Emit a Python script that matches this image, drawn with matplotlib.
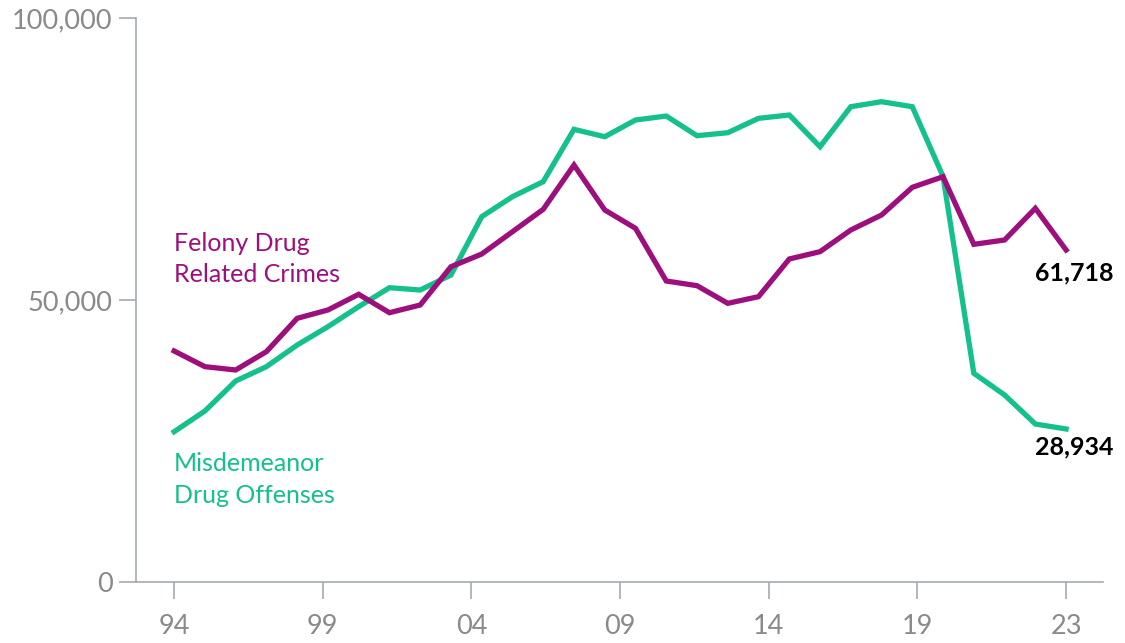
import numpy as np
import matplotlib.pyplot as plt

plt.rcParams['font.family'] = ['Lato', 'DejaVu Sans']

years = list(range(1994, 2024))
felony = [40960, 38180, 37590, 40840, 46750, 48230, 51010, 47750, 49110, 55900,
          58150, 62110, 66080, 73930, 65960, 62710, 53370, 52540, 49410, 50590,
          57270, 58570, 62410, 65070, 69980, 71860, 59870, 60640, 66260, 58870]
misdemeanor = [26650, 30320, 35640, 38180, 42020, 45270, 48820, 52180, 51770, 54430,
               64770, 68320, 70980, 80260, 78950, 81910, 82620, 79130, 79660, 82210,
               82800, 77180, 84270, 85160, 84270, 71900, 37000, 33160, 28010, 27130]
tick_labels = ['94', '99', '04', '09', '14', '19', '23']
end_labels = ['61,718', '28,934']

purple = '#9c0f7c'
green = '#14c08c'
grey = '#a3aab2'

fig = plt.figure(figsize=(11.25, 6.43), dpi=100)
ax = fig.add_axes([136/1125, 61/643, (1103-136)/1125, (582-18)/643])

ax.plot(years, misdemeanor, color=green, lw=3.8, solid_joinstyle='miter', zorder=3)
ax.plot(years, felony, color=purple, lw=3.8, solid_joinstyle='miter', zorder=4)

ax.set_xlim(1992.76, 2024.2)
ax.set_ylim(0, 100000)

ax.set_xticks(np.linspace(1994, 2023, 7))
ax.set_xticklabels(tick_labels)
ax.set_yticks([0, 50000, 100000])
ax.set_yticklabels(['0', '50,000', '100,000'])

for s in ['top', 'right']:
    ax.spines[s].set_visible(False)
for s in ['left', 'bottom']:
    ax.spines[s].set_color(grey)
    ax.spines[s].set_linewidth(1.2)

ax.tick_params(axis='y', length=12, width=1.2, color=grey, labelcolor='#8a8a8a',
               labelsize=19.5, pad=5)
ax.tick_params(axis='x', length=12, width=1.2, color=grey, labelcolor='#8a8a8a',
               labelsize=19.5, pad=11)

ax.text(1994, 62100, 'Felony Drug\nRelated Crimes', color=purple, fontsize=18,
        va='top', ha='left', linespacing=1.45)
ax.text(1994, 23000, 'Misdemeanor\nDrug Offenses', color=green, fontsize=18,
        va='top', ha='left', linespacing=1.45)

ax.text(2022.0, 54800, end_labels[0], color='black', fontsize=18, fontweight='bold',
        va='center', ha='left')
ax.text(2022.0, 23900, end_labels[1], color='black', fontsize=18, fontweight='bold',
        va='center', ha='left')

fig.savefig('out.png', dpi=100)
